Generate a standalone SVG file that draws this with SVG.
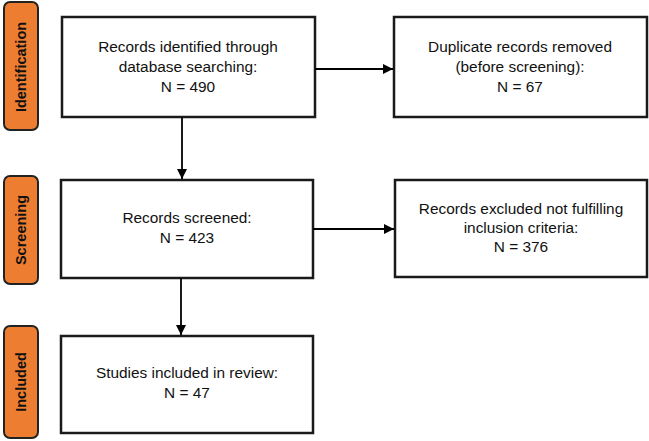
<svg xmlns="http://www.w3.org/2000/svg" width="649" height="441" viewBox="0 0 649 441">
<defs>
<marker id="ah" viewBox="0 0 10 10" refX="10" refY="5" markerWidth="10" markerHeight="10" markerUnits="userSpaceOnUse" orient="auto">
<path d="M0,0 L10,5 L0,10 Z" fill="#000"/>
</marker>
</defs>
<style>
.box{fill:#fff;stroke:#1a1a1a;stroke-width:2.5}
.lab{fill:#ED7D31;stroke:#222;stroke-width:2}
.t{font-family:"Liberation Sans",Arial,sans-serif;font-size:15.4px;fill:#111;text-anchor:middle}
.lt{font-family:"Liberation Sans",Arial,sans-serif;font-size:14.5px;font-weight:bold;fill:#111;text-anchor:middle}
.c{stroke:#000;stroke-width:1.8;fill:none;marker-end:url(#ah)}
</style>
<rect width="649" height="441" fill="#fff"/>
<g id="label-identification">
<rect class="lab" x="4" y="2" width="34" height="128" rx="6"/>
<text class="lt" transform="translate(26,67) rotate(-90)">Identification</text>
</g>
<g id="label-screening">
<rect class="lab" x="4" y="176" width="34" height="108" rx="6"/>
<text class="lt" transform="translate(26,230) rotate(-90)">Screening</text>
</g>
<g id="label-included">
<rect class="lab" x="4" y="326" width="34" height="112" rx="6"/>
<text class="lt" transform="translate(26,382) rotate(-90)">Included</text>
</g>
<g id="n1">
<rect class="box" x="62" y="17" width="253" height="100"/>
<text class="t" x="188" y="52">Records identified through</text>
<text class="t" x="188" y="72">database searching:</text>
<text class="t" x="188" y="92">N = 490</text>
</g>
<g id="n2">
<rect class="box" x="394" y="17" width="253" height="100"/>
<text class="t" x="520" y="52">Duplicate records removed</text>
<text class="t" x="520" y="72">(before screening):</text>
<text class="t" x="520" y="92">N = 67</text>
</g>
<g id="n3">
<rect class="box" x="61" y="180" width="252" height="98"/>
<text class="t" x="187" y="223">Records screened:</text>
<text class="t" x="187" y="243">N = 423</text>
</g>
<g id="n4">
<rect class="box" x="395" y="180" width="252" height="97"/>
<text class="t" x="521" y="214">Records excluded not fulfilling</text>
<text class="t" x="521" y="233">inclusion criteria:</text>
<text class="t" x="521" y="252">N = 376</text>
</g>
<g id="n5">
<rect class="box" x="61" y="336" width="252" height="97"/>
<text class="t" x="187" y="378">Studies included in review:</text>
<text class="t" x="187" y="398">N = 47</text>
</g>
<g id="connectors">
<line class="c" x1="315" y1="69" x2="393" y2="69"/>
<line class="c" x1="182" y1="117" x2="182" y2="179"/>
<line class="c" x1="313" y1="229" x2="394" y2="229"/>
<line class="c" x1="181" y1="278" x2="181" y2="335"/>
</g>
</svg>
